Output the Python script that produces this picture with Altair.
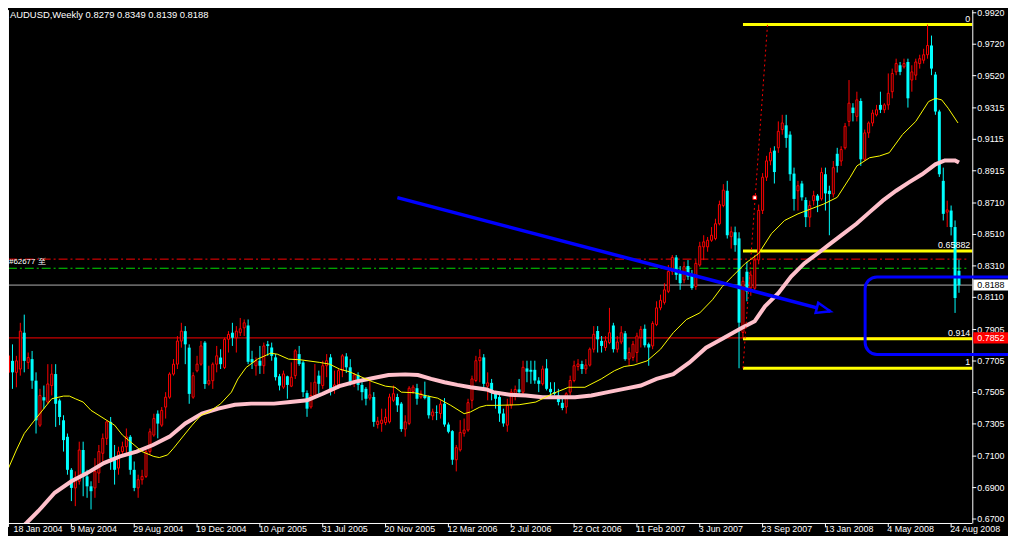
import altair as alt
import pandas as pd

# ---------------- data (weekly AUDUSD) ----------------
# week index 0 = 18 Jan 2004, one step = one week
OPEN = [
    .7633, .7706, .7633, .7654, .7885, .7696, .7717, .7580, .7297, .7475,
    .7444, .7549, .7622, .7454, .7328, .7223, .7013, .6898, .6940, .7139,
    .6971, .6908, .6898, .6992, .7118, .7213, .7318, .7087, .7024, .7129,
    .7160, .7223, .7013, .6898, .6950, .6971, .7129, .7234, .7370, .7297,
    .7412, .7475, .7622, .7685, .7832, .7895, .7790, .7475, .7643, .7685,
    .7822, .7559, .7580, .7685, .7727, .7664, .7843, .7885, .7853, .7885,
    .7916, .7931, .7717, .7675, .7707, .7675, .7812, .7791, .7728, .7608,
    .7539, .7608, .7545, .7612, .7749, .7696, .7501, .7413, .7486, .7612,
    .7549, .7675, .7728, .7528, .7553, .7644, .7734, .7665, .7570, .7616,
    .7553, .7528, .7469, .7476, .7301, .7308, .7314, .7318, .7455, .7476,
    .7434, .7272, .7308, .7511, .7532, .7476, .7486, .7476, .7356, .7381,
    .7371, .7434, .7301, .7259, .7077, .7140, .7245, .7266, .7455, .7581,
    .7707, .7728, .7545, .7566, .7497, .7476, .7371, .7297, .7423, .7497,
    .7524, .7507, .7658, .7649, .7649, .7581, .7560, .7658, .7528, .7507,
    .7486, .7439, .7413, .7507, .7581, .7670, .7686, .7654, .7679, .7780,
    .7896, .7833, .7791, .7822, .7931, .7780, .7826, .7881, .7717, .7728,
    .7759, .7854, .7910, .7812, .7801, .7937, .8043, .8078, .8148, .8274,
    .8364, .8263, .8221, .8309, .8246, .8179, .8316, .8431, .8431, .8473,
    .8484, .8578, .8694, .8788, .8496, .8524, .8485, .7887, .8273, .8170,
    .8168, .8348, .8663, .8874, .8978, .9043, .9061, .9177, .9204, .9145,
    .8897, .8788, .8834, .8729, .8620, .8725, .8757, .8736, .8893, .8788,
    .8767, .9023, .8977, .9061, .9229, .9317, .9261, .9359, .8988, .9156,
    .9219, .9271, .9334, .9303, .9334, .9418, .9544, .9586, .9576, .9607,
    .9492, .9523, .9597, .9618, .9653, .9712, .9527, .9292, .8851, .8652,
    .8662, .8557, .8279,
]
HIGH = [
    .7790, .7811, .7738, .7948, .8000, .7759, .7769, .7633, .7528, .7549,
    .7685, .7685, .7685, .7465, .7360, .7244, .7024, .7003, .7192, .7192,
    .7013, .6940, .7087, .7171, .7244, .7328, .7349, .7171, .7160, .7192,
    .7276, .7234, .7066, .6982, .7013, .7139, .7276, .7370, .7391, .7412,
    .7507, .7633, .7717, .7864, .7948, .7927, .7811, .7633, .7738, .7832,
    .7832, .7675, .7696, .7801, .7780, .7853, .7895, .7948, .7927, .7979,
    .7969, .7969, .7770, .7728, .7801, .7822, .7833, .7822, .7749, .7623,
    .7644, .7612, .7696, .7780, .7801, .7707, .7518, .7570, .7686, .7644,
    .7707, .7749, .7749, .7644, .7654, .7749, .7755, .7717, .7629, .7633,
    .7570, .7539, .7581, .7507, .7350, .7402, .7402, .7497, .7549, .7497,
    .7444, .7360, .7545, .7553, .7560, .7518, .7574, .7486, .7402, .7423,
    .7455, .7469, .7314, .7266, .7171, .7329, .7339, .7465, .7612, .7738,
    .7780, .7749, .7633, .7591, .7507, .7497, .7402, .7465, .7528, .7549,
    .7591, .7707, .7707, .7707, .7707, .7602, .7675, .7717, .7570, .7570,
    .7528, .7465, .7507, .7612, .7707, .7717, .7707, .7717, .7791, .7927,
    .7927, .7864, .7864, .8043, .7948, .7864, .7927, .7896, .7791, .7833,
    .7885, .7927, .7937, .7822, .7958, .8085, .8127, .8200, .8316, .8379,
    .8379, .8309, .8337, .8347, .8284, .8347, .8463, .8505, .8494, .8557,
    .8610, .8725, .8830, .8851, .8560, .8560, .8524, .8240, .8336, .8280,
    .8380, .8700, .8900, .9010, .9061, .9071, .9229, .9271, .9271, .9166,
    .8935, .8851, .8851, .8746, .8725, .8788, .8767, .8935, .8935, .8820,
    .8977, .9061, .9071, .9219, .9492, .9345, .9418, .9376, .9177, .9229,
    .9303, .9334, .9418, .9345, .9534, .9565, .9628, .9607, .9628, .9628,
    .9586, .9628, .9653, .9691, .9845, .9775, .9544, .9303, .8935, .8725,
    .8694, .8599, .8349,
]
LOW = [
    .7528, .7528, .7538, .7612, .7633, .7654, .7528, .7244, .7286, .7402,
    .7433, .7486, .7286, .7297, .7129, .6982, .6814, .6782, .6919, .6845,
    .6835, .6761, .6835, .6929, .7066, .7171, .7013, .6919, .6982, .7108,
    .7118, .6982, .6877, .6835, .6919, .6961, .7108, .7223, .7213, .7286,
    .7339, .7465, .7612, .7654, .7790, .7685, .7433, .7465, .7633, .7675,
    .7528, .7549, .7528, .7633, .7654, .7654, .7759, .7801, .7759, .7864,
    .7864, .7685, .7654, .7612, .7623, .7623, .7738, .7707, .7581, .7518,
    .7528, .7465, .7539, .7591, .7675, .7476, .7350, .7402, .7476, .7497,
    .7528, .7602, .7486, .7497, .7528, .7602, .7629, .7549, .7539, .7518,
    .7455, .7423, .7455, .7287, .7276, .7255, .7297, .7308, .7444, .7381,
    .7255, .7224, .7297, .7497, .7427, .7465, .7461, .7339, .7329, .7329,
    .7339, .7287, .7245, .7045, .7003, .7129, .7224, .7255, .7402, .7570,
    .7570, .7539, .7455, .7455, .7402, .7318, .7287, .7255, .7402, .7455,
    .7486, .7486, .7570, .7560, .7560, .7507, .7549, .7518, .7465, .7486,
    .7423, .7392, .7371, .7486, .7570, .7644, .7623, .7623, .7670, .7759,
    .7759, .7759, .7770, .7812, .7759, .7759, .7812, .7707, .7675, .7707,
    .7696, .7791, .7791, .7675, .7780, .7927, .8028, .8064, .8137, .8253,
    .8221, .8158, .8200, .8221, .8158, .8158, .8305, .8347, .8400, .8463,
    .8473, .8568, .8683, .8484, .8420, .8400, .7659, .7850, .8085, .8120,
    .8150, .8320, .8640, .8850, .8950, .8834, .9029, .9145, .9061, .8851,
    .8662, .8662, .8725, .8557, .8557, .8694, .8652, .8725, .8662, .8505,
    .8746, .8904, .8946, .9050, .9198, .9229, .9229, .8946, .8977, .9124,
    .9198, .9261, .9282, .9282, .9303, .9376, .9523, .9523, .9565, .9317,
    .9418, .9492, .9565, .9597, .9628, .9523, .9271, .8876, .8599, .8557,
    .8504, .8011, .8139,
]
CLOSE = [
    .7738, .7633, .7706, .7895, .7706, .7727, .7580, .7328, .7486, .7454,
    .7559, .7622, .7433, .7349, .7202, .7013, .6898, .6961, .7139, .6971,
    .6908, .6877, .7003, .7129, .7213, .7318, .7087, .7013, .7129, .7160,
    .7223, .7013, .6898, .6950, .6971, .7129, .7255, .7339, .7307, .7391,
    .7475, .7622, .7685, .7832, .7895, .7811, .7496, .7612, .7685, .7801,
    .7559, .7580, .7685, .7738, .7685, .7843, .7874, .7853, .7895, .7910,
    .7948, .7700, .7696, .7707, .7675, .7801, .7801, .7738, .7602, .7549,
    .7623, .7553, .7602, .7770, .7686, .7507, .7402, .7486, .7570, .7560,
    .7675, .7707, .7518, .7553, .7644, .7738, .7665, .7570, .7616, .7553,
    .7507, .7465, .7490, .7318, .7322, .7329, .7347, .7476, .7497, .7423,
    .7272, .7318, .7532, .7539, .7465, .7497, .7469, .7360, .7381, .7377,
    .7431, .7301, .7255, .7077, .7154, .7251, .7266, .7440, .7591, .7707,
    .7728, .7560, .7566, .7518, .7465, .7371, .7308, .7423, .7507, .7524,
    .7507, .7665, .7637, .7637, .7581, .7560, .7654, .7528, .7507, .7497,
    .7444, .7406, .7497, .7581, .7675, .7686, .7654, .7679, .7780, .7875,
    .7843, .7801, .7833, .7885, .7780, .7826, .7885, .7717, .7759, .7812,
    .7864, .7906, .7805, .7791, .7944, .8043, .8091, .8158, .8274, .8364,
    .8253, .8200, .8305, .8242, .8169, .8326, .8435, .8463, .8473, .8505,
    .8578, .8700, .8792, .8505, .8527, .8442, .7949, .8212, .8147, .8252,
    .8348, .8663, .8874, .8978, .9032, .8907, .9166, .9219, .9124, .8893,
    .8736, .8820, .8746, .8620, .8694, .8757, .8725, .8904, .8771, .8767,
    .8935, .8946, .9050, .9198, .9345, .9282, .9366, .8988, .9156, .9219,
    .9282, .9303, .9303, .9334, .9408, .9534, .9597, .9544, .9597, .9376,
    .9544, .9607, .9628, .9653, .9712, .9565, .9292, .8893, .8641, .8666,
    .8557, .8106, .8188,
]

# thin yellow moving average (week index, price)
YELLOW_W = [0, 2, 4, 6.3, 11, 14, 15.5, 17, 19, 21, 25, 27, 29, 32, 34, 37, 38.4, 40.5, 42, 44.7,
            46.75, 49, 51, 54, 56.75, 58.4, 60.5, 63.4, 66.75, 68.5, 71.3, 74.25, 79.25, 81.75, 84.25,
            86.75, 90, 92.6, 96, 98.4, 100, 103.4, 106, 109.25, 112.6, 116, 117.6, 120, 121.75, 124.25,
            130, 134.25, 138.4, 142.6, 146.75, 150.9, 154.25, 156.75, 159.25, 162.6, 166, 169.25, 172.6,
            176, 179.25, 181.75, 184.25, 187.6, 191, 194.25, 197.6, 201, 204.25, 207.6, 211, 214.25, 216,
            219.25, 221.75, 224.25, 227.6, 231, 234.25, 236, 237.6, 239.25, 241.75]
YELLOW_P = [.7024, .7139, .7244, .7318, .7465, .7482, .7482, .7465, .7444, .7391, .7328, .7297, .7234,
            .7171, .7129, .7098, .7091, .7108, .7150, .7234, .7297, .7360, .7381, .7433, .7507, .7591,
            .7664, .7717, .7755, .7748, .7717, .7713, .7696, .7685, .7654, .7637, .7602, .7574, .7545,
            .7538, .7507, .7503, .7486, .7469, .7423, .7370, .7381, .7412, .7423, .7423, .7427, .7444,
            .7496, .7538, .7538, .7591, .7643, .7670, .7679, .7706, .7780, .7885, .7969, .8011, .8095,
            .8179, .8242, .8326, .8389, .8515, .8599, .8641, .8672, .8704, .8746, .8872, .8946, .8998,
            .9009, .9030, .9145, .9229, .9355, .9376, .9366, .9313, .9219]

# thick pink moving average (week index, price)
PINK_W = [3.5, 4.7, 7.6, 11.75, 16, 20, 24.25, 28.4, 32.6, 36.75, 41, 45, 49.25, 53.4, 57.6, 61.75,
          67.6, 71.75, 76, 80, 84.25, 88.4, 92.6, 96.75, 101, 104.25, 107.6, 111, 114.25, 117.6, 121.75,
          123.4, 127.6, 131.75, 136, 140, 144.25, 148.4, 152.6, 156.75, 161, 165, 169.25, 173.4, 177.6,
          181.75, 186.75, 190, 192.6, 196, 199.25, 202.6, 206, 209.25, 212.6, 215.9, 219.25, 222.6, 226,
          229.25, 232.6, 236, 238.4, 241, 242]
PINK_P = [.6650, .6678, .6751, .6867, .6940, .6992, .7056, .7098, .7129, .7171, .7224, .7308, .7371,
          .7402, .7427, .7434, .7434, .7444, .7455, .7497, .7545, .7574, .7595, .7616, .7620, .7616,
          .7591, .7570, .7553, .7538, .7524, .7507, .7490, .7486, .7475, .7475, .7475, .7486, .7507,
          .7528, .7549, .7591, .7622, .7696, .7790, .7847, .7917, .7958, .8053, .8137, .8242, .8326,
          .8389, .8452, .8515, .8578, .8652, .8725, .8788, .8841, .8893, .8956, .8981, .8981, .8967]

DATE_TICKS = [0, 16, 32, 48, 64, 80, 96, 112, 128, 144, 160, 176, 192, 208, 224, 240]
DATE_LABELS = ["18 Jan 2004", "9 May 2004", "29 Aug 2004", "19 Dec 2004", "10 Apr 2005",
               "31 Jul 2005", "20 Nov 2005", "12 Mar 2006", "2 Jul 2006", "22 Oct 2006",
               "11 Feb 2007", "3 Jun 2007", "23 Sep 2007", "13 Jan 2008", "4 May 2008", "24 Aug 2008"]
PRICE_TICKS = [0.9920, 0.9720, 0.9520, 0.9315, 0.9115, 0.8915, 0.8710, 0.8510, 0.8310, 0.8110,
               0.7905, 0.7705, 0.7505, 0.7305, 0.7100, 0.6900, 0.6700]
PRICE_LABELS = ["0.9920", "0.9720", "0.9520", "0.9315", "0.9115", "0.8915", "0.8710", "0.8510",
                "0.8310", "0.8110", "0.7905", "0.7705", "0.7505", "0.7305", "0.7100", "0.6900", "0.6700"]

SUPPORT_PRICE = [0.7852]          # solid red line
ORDER_PRICE = [0.8353]            # red dash-dot
STOP_PRICE = [0.8295]             # green dash-dot
BID_PRICE = [0.8188]              # grey bid line
FIB_LEVELS = [0.9845, 0.8405, 0.7847, 0.7659]
FIB_NAMES = ["0", "0.65882", "0.914", "1"]
FIB_START = [187, 187, 187, 187]
FIB_TREND_W = [187, 193.25]
FIB_TREND_P = [0.7659, 0.9845]
TREND_W = [99, 209.25]
TREND_P = [0.8744, 0.8021]
ZONE_W = [218.1]
ZONE_TOP = [0.8240]
ZONE_BOTTOM = [0.7747]
MARKER_W = [190]
MARKER_P = [0.8744]
BOX_PRICES = [0.8188, 0.7852]
BOX_TEXT = ["0.8188", "0.7852"]
TITLE = "AUDUSD,Weekly  0.8279 0.8349 0.8139 0.8188"
ORDER_LABEL = "#62677  至"
ORDER_LABEL_P = [0.8335]

# ---------------- styling / geometry ----------------
W, H = 972, 517
XDOM = [1.125, 244.125]          # 4 px per week, as in the terminal
YDOM = [0.66748, 0.99370]
FONT = "Liberation Sans"
RED, CYAN, YELLOW, PINK, BLUE = "#ff0000", "#00ffff", "#ffff00", "#ffc0cb", "#0000ff"

xs = alt.Scale(domain=XDOM, nice=False, zero=False)
ys = alt.Scale(domain=YDOM, nice=False, zero=False)


def X(f):
    return alt.X(f, scale=xs, axis=None)


def Y(f):
    return alt.Y(f, scale=ys, axis=None)


candles = pd.DataFrame({"i": list(range(len(OPEN))), "o": OPEN, "h": HIGH, "l": LOW, "c": CLOSE})
one = pd.DataFrame({"a": [0]})
dates = pd.DataFrame({"t": DATE_TICKS, "lab": DATE_LABELS})
prices = pd.DataFrame({"p": PRICE_TICKS, "lab": PRICE_LABELS})

layers = []

# horizontal lines
layers.append(alt.Chart(pd.DataFrame({"p": SUPPORT_PRICE})).mark_rule(color=RED, strokeWidth=1).encode(
    y=Y("p:Q"), x=alt.value(0), x2=alt.value(W)))
layers.append(alt.Chart(pd.DataFrame({"p": ORDER_PRICE})).mark_rule(
    color=RED, strokeWidth=1, strokeDash=[9, 3, 2, 3]).encode(y=Y("p:Q"), x=alt.value(0), x2=alt.value(W - 4)))
layers.append(alt.Chart(pd.DataFrame({"p": STOP_PRICE})).mark_rule(
    color="#00dd00", strokeWidth=1, strokeDash=[9, 3, 2, 3]).encode(y=Y("p:Q"), x=alt.value(0), x2=alt.value(W - 4)))
layers.append(alt.Chart(pd.DataFrame({"p": BID_PRICE})).mark_rule(color="#b0b0b0", strokeWidth=1).encode(
    y=Y("p:Q"), x=alt.value(0), x2=alt.value(W)))

# fibonacci levels
fib = pd.DataFrame({"s": FIB_START, "p": FIB_LEVELS, "name": FIB_NAMES})
layers.append(alt.Chart(fib).mark_rule(color=YELLOW, strokeWidth=3).encode(
    x=X("s:Q"), x2=alt.value(W), y=Y("p:Q")))

# candles: wicks then bodies
layers.append(alt.Chart(candles).transform_filter("datum.c >= datum.o").mark_rule(
    color=RED, strokeWidth=1).encode(x=X("i:Q"), y=Y("l:Q"), y2="h:Q"))
layers.append(alt.Chart(candles).transform_filter("datum.c < datum.o").mark_rule(
    color=CYAN, strokeWidth=1).encode(x=X("i:Q"), y=Y("l:Q"), y2="h:Q"))
layers.append(alt.Chart(candles).transform_filter("datum.c >= datum.o").mark_bar(
    size=2, fill="black", stroke=RED, strokeWidth=1, opacity=1).encode(x=X("i:Q"), y=Y("o:Q"), y2="c:Q"))
layers.append(alt.Chart(candles).transform_filter("datum.c < datum.o").mark_bar(
    size=3, color=CYAN, opacity=1).encode(x=X("i:Q"), y=Y("o:Q"), y2="c:Q"))

# moving averages
layers.append(alt.Chart(pd.DataFrame({"w": PINK_W, "p": PINK_P})).mark_line(
    color=PINK, strokeWidth=4, clip=True).encode(x=X("w:Q"), y=Y("p:Q")))
layers.append(alt.Chart(pd.DataFrame({"w": YELLOW_W, "p": YELLOW_P})).mark_line(
    color=YELLOW, strokeWidth=1, clip=True).encode(x=X("w:Q"), y=Y("p:Q")))

# fibonacci trend (dotted red)
layers.append(alt.Chart(pd.DataFrame({"w": FIB_TREND_W, "p": FIB_TREND_P})).mark_line(
    color=RED, strokeWidth=1, strokeDash=[2, 3]).encode(x=X("w:Q"), y=Y("p:Q")))

# blue trendline with arrow
trend = pd.DataFrame({"w": TREND_W, "p": TREND_P})
layers.append(alt.Chart(trend).mark_line(color=BLUE, strokeWidth=3.5).encode(x=X("w:Q"), y=Y("p:Q")))
layers.append(alt.Chart(trend.tail(1)).mark_point(
    shape="M-2,-0.75L0,0L-2,0.75Z", size=196, angle=14.4, fill="black", stroke=BLUE,
    strokeWidth=2.5, opacity=1, fillOpacity=1).encode(x=X("w:Q"), y=Y("p:Q")))

# small white marker
layers.append(alt.Chart(pd.DataFrame({"w": MARKER_W, "p": MARKER_P})).mark_square(
    size=14, fill="white", stroke=RED, strokeWidth=1, opacity=1).encode(x=X("w:Q"), y=Y("p:Q")))

# fib level labels
layers.append(alt.Chart(fib).mark_text(
    align="right", baseline="bottom", dy=-1, color="white", font=FONT, fontSize=9).encode(
    x=alt.value(W - 2), y=Y("p:Q"), text="name:N"))

# order label
layers.append(alt.Chart(pd.DataFrame({"p": ORDER_LABEL_P, "t": [ORDER_LABEL]})).mark_text(
    align="left", baseline="middle", color="white", font=FONT, fontSize=8).encode(
    x=alt.value(1), y=Y("p:Q"), text="t:N"))

# title
layers.append(alt.Chart(pd.DataFrame({"t": [TITLE]})).mark_text(
    align="left", baseline="top", color="white", font=FONT, fontSize=9.5).encode(
    x=alt.value(2), y=alt.value(0), text="t:N"))

# ---- frame and scales drawn as marks ----
layers.append(alt.Chart(one).mark_rule(color="white", strokeWidth=1).encode(
    x=alt.value(0.5), y=alt.value(0), y2=alt.value(H)))
layers.append(alt.Chart(one).mark_rule(color="white", strokeWidth=1).encode(
    x=alt.value(0), x2=alt.value(W), y=alt.value(H + 0.5)))
layers.append(alt.Chart(one).mark_rule(color="white", strokeWidth=1).encode(
    x=alt.value(W + 0.5), y=alt.value(0), y2=alt.value(H + 0.5)))
# date scale
layers.append(alt.Chart(dates).mark_rule(color="white", strokeWidth=1).encode(
    x=X("t:Q"), y=alt.value(H), y2=alt.value(H + 4)))
layers.append(alt.Chart(dates).transform_calculate(
    lx="max(datum.t, %f)" % (XDOM[0] + 0.4)).mark_text(
    align="left", baseline="top", color="white", font=FONT, fontSize=9, dx=-1).encode(
    x=X("lx:Q"), y=alt.value(H + 2), text="lab:N"))
# price scale
layers.append(alt.Chart(prices).mark_rule(color="white", strokeWidth=1).encode(
    y=Y("p:Q"), x=alt.value(W), x2=alt.value(W + 4)))
layers.append(alt.Chart(prices).mark_text(
    align="left", baseline="middle", color="white", font=FONT, fontSize=9).encode(
    y=Y("p:Q"), x=alt.value(W + 5), text="lab:N"))

# blue rounded zone (drawn over the price scale, as in the terminal)
layers.append(alt.Chart(pd.DataFrame({"w": ZONE_W, "t": ZONE_TOP, "b": ZONE_BOTTOM})).mark_rect(
    cornerRadius=12, fillOpacity=0, stroke=BLUE, strokeWidth=3).encode(
    x=X("w:Q"), x2=alt.value(W + 80), y=Y("t:Q"), y2="b:Q"))

# price boxes on the right scale
BOX = "M0,-0.31L2,-0.31L2,0.31L0,0.31Z"
boxes = pd.DataFrame({"p": BOX_PRICES, "t": BOX_TEXT})
layers.append(alt.Chart(boxes.head(1)).mark_point(
    shape=BOX, size=1296, filled=True, color="white", opacity=1).encode(x=alt.value(W + 1), y=Y("p:Q")))
layers.append(alt.Chart(boxes.tail(1)).mark_point(
    shape=BOX, size=1296, filled=True, color=RED, opacity=1).encode(x=alt.value(W + 1), y=Y("p:Q")))
layers.append(alt.Chart(boxes.head(1)).mark_text(
    align="left", baseline="middle", color="black", font=FONT, fontSize=9).encode(
    x=alt.value(W + 5), y=Y("p:Q"), text="t:N"))
layers.append(alt.Chart(boxes.tail(1)).mark_text(
    align="left", baseline="middle", color="white", font=FONT, fontSize=9).encode(
    x=alt.value(W + 5), y=Y("p:Q"), text="t:N"))

chart = alt.layer(*layers).properties(
    width=W, height=H,
    autosize=alt.AutoSizeParams(type="none"),
    padding={"left": 0, "top": 0, "right": 36, "bottom": 11},
    background="black",
).configure_view(strokeWidth=0)

chart.save("out.html", embed_options={"renderer": "svg", "actions": False})
